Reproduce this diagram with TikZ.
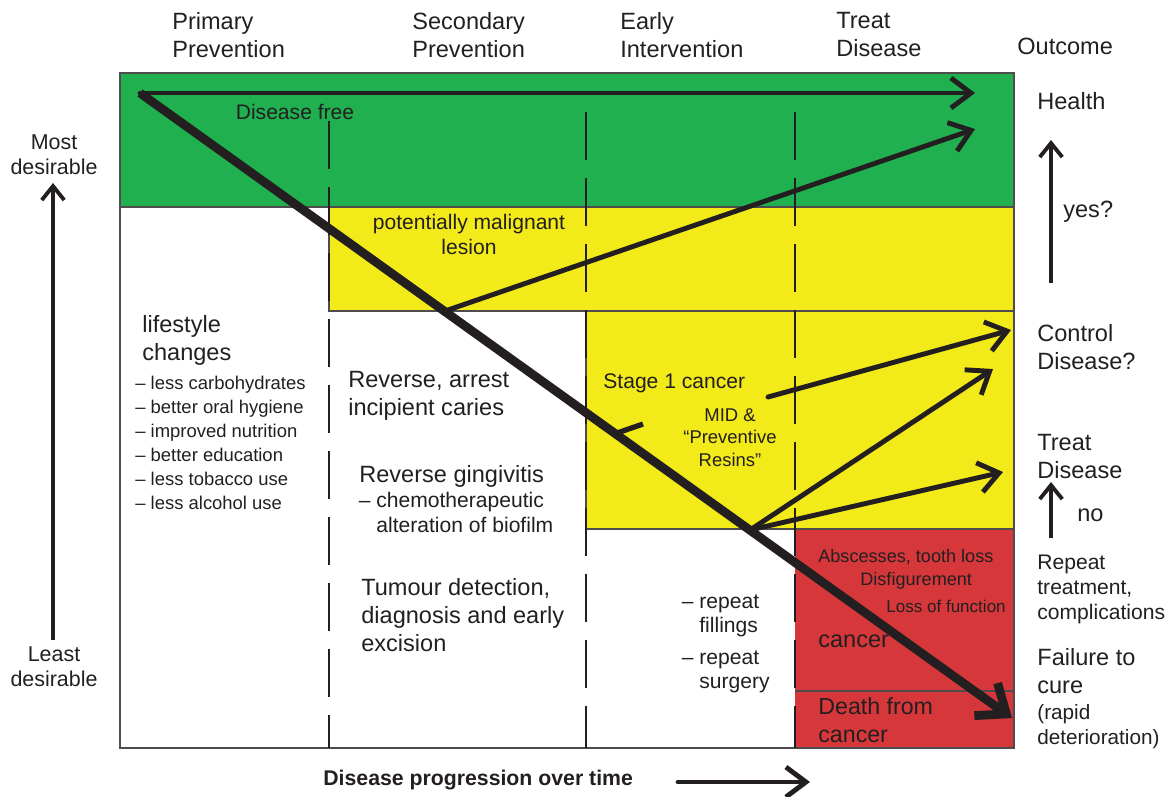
\documentclass[tikz,border=0pt]{standalone}
\usepackage{fontspec}
\setmainfont{Liberation Sans}
\usepackage{tikz}
\usetikzlibrary{arrows.meta,calc,positioning,backgrounds}
\definecolor{ink}{RGB}{35,31,32}
\definecolor{freegreen}{RGB}{33,176,80}
\definecolor{lesionyellow}{RGB}{242,234,25}
\definecolor{cancerred}{RGB}{214,55,58}
\tikzset{
  txt/.style={inner sep=0pt, text=ink, align=left, anchor=north west},
  bigtxt/.style={txt, font=\fontsize{13.4}{15.9}\selectfont},
  midtxt/.style={txt, font=\fontsize{12}{14.2}\selectfont},
  smalltxt/.style={txt, font=\fontsize{10.5}{13.6}\selectfont},
  stageline/.style={draw=ink, line width=1.5pt, dash pattern=on 0.96cm off 0.36cm},
  zone/.style={draw=ink!80, line width=0.8pt},
  flow/.style={draw=ink, line width=2.8pt, line cap=round,
    -{Straight Barb[length=0.4cm,width=0.6cm]}},
  mainflow/.style={draw=ink, line width=5pt, line join=round,
    -{Straight Barb[length=0.5cm,width=0.8cm]}},
  sideflow/.style={draw=ink, line width=2.2pt,
    -{Straight Barb[length=0.28cm,width=0.45cm]}}
}
\begin{document}
\begin{tikzpicture}[x=0.02cm,y=-0.02cm]
\useasboundingbox (0,0) rectangle (1168,796);
\pgfmathsetmacro{\colB}{329}
\pgfmathsetmacro{\colC}{586}
\pgfmathsetmacro{\colD}{795}
\pgfmathsetmacro{\rgt}{1014}

% coloured zones
\fill[freegreen] (120,73) rectangle (\rgt,207);
\fill[lesionyellow] (\colB,207) rectangle (\rgt,311);
\fill[lesionyellow] (\colC,311) rectangle (\rgt,529);
\fill[cancerred] (\colD,529) rectangle (\rgt,748);
\draw[zone] (120,207) -- (\colB,207) -- (\colB,311) -- (\colC,311) -- (\colC,529) -- (\colD,529);
\draw[zone] (\colB,207) -- (\rgt,207);
\draw[zone] (\colB,311) -- (\rgt,311);
\draw[zone] (\colC,529) -- (\rgt,529);
\draw[zone] (\colD,691) -- (\rgt,691);
\draw[zone] (120,73) rectangle (\rgt,748);

% phase borders
\draw[stageline] (\colB,121) -- (\colB,748);
\draw[stageline] (\colC,112) -- (\colC,748);
\draw[stageline] (\colD,112) -- (\colD,748);

% headers
\node[bigtxt] (prim) at (172,12) {Primary\\Prevention};
\node[bigtxt] (sec) at (412,12) {Secondary\\Prevention};
\node[bigtxt] (early) at (620,12) {Early\\Intervention};
\node[bigtxt] (treat) at (836,12) {Treat\\Disease};
\node[bigtxt] (outcome) at (1017,38) {Outcome};

% outcomes
\node[bigtxt] (health) at (1037,92) {Health};
\node[bigtxt] (yes) at (1063,201) {yes?};
\node[bigtxt] (control) at (1037,324) {Control\\Disease?};
\node[bigtxt] (treatdis) at (1037,434) {Treat\\Disease};
\node[bigtxt, anchor=west] (no) at (1077,515) {no};
\node[midtxt] (repeat) at (1037,555) {Repeat\\treatment,\\complications};
\node[bigtxt] (failure) at (1037,648) {Failure to\\cure};
\node[midtxt, font=\fontsize{11.8}{14.2}\selectfont] (rapid) at (1037,704) {(rapid\\deterioration)};

% desirability
\node[txt, align=center, anchor=north, font=\fontsize{12.2}{14.2}\selectfont] (most) at (54,134) {Most\\desirable};
\node[txt, align=center, anchor=north, font=\fontsize{12.2}{14.2}\selectfont] (least) at (54,646) {Least\\desirable};

% zone texts
\node[midtxt, anchor=center] (free) at (295,112) {Disease free};
\node[midtxt, align=center, anchor=north] (lesion) at (469,214) {potentially malignant\\lesion};
\node[midtxt, anchor=west] (stage) at (603,383) {Stage 1 cancer};
\node[smalltxt, align=center, anchor=north, font=\fontsize{10.5}{13}\selectfont] (mid) at (730,408) {MID \&\\“Preventive\\Resins”};
\node[smalltxt, anchor=west, font=\fontsize{10.3}{12}\selectfont] (absc) at (818,557) {Abscesses, tooth loss};
\node[smalltxt, anchor=west, font=\fontsize{10.3}{12}\selectfont] (disf) at (860,581) {Disfigurement};
\node[smalltxt, anchor=west, font=\fontsize{9.7}{12}\selectfont] (loss) at (886,606) {Loss of function};
\node[bigtxt, anchor=west] (cancer) at (818,641) {cancer};
\node[bigtxt, font=\fontsize{13.2}{16.4}\selectfont] (death) at (818,697) {Death from\\cancer};

% column texts
\node[bigtxt] (lifestyle) at (142,315) {lifestyle\\changes};
\node[smalltxt] (habits) at (135,376) {– less carbohydrates\\– better oral hygiene\\– improved nutrition\\– better education\\– less tobacco use\\– less alcohol use};
\node[bigtxt] (caries) at (348,371) {Reverse, arrest\\incipient caries};
\node[bigtxt] (gingi) at (359,465) {Reverse gingivitis};
\node[midtxt] (chemo) at (376,492) {\llap{– }chemotherapeutic\\alteration of biofilm};
\node[bigtxt] (tumour) at (361,578) {Tumour detection,\\diagnosis and early\\excision};
\node[midtxt] (fill) at (699,594) {\llap{– }repeat\\fillings};
\node[midtxt] (surg) at (699,650) {\llap{– }repeat\\surgery};
\node[txt, anchor=west, font=\bfseries\fontsize{12.1}{14}\selectfont] (time) at (323,780) {Disease progression over time};

% pathways
\coordinate (origin) at (140,93);
\coordinate (fail) at (1012,718);
\coordinate (lesionfork) at (445,311);
\coordinate (stagefork) at (750,530);
\draw[flow] (origin) -- (975,93);
\draw[mainflow] (origin) -- (fail);
\draw[flow] (lesionfork) -- (975,129);
\draw[flow] (768,397) -- (1011,330);
\draw[flow] (stagefork) -- (993,369);
\draw[flow] (stagefork) -- (1003,472);
\draw[draw=ink, line width=3pt] (617,433) -- (643,424);

\draw[sideflow] (53,640) -- (53,183);
\draw[sideflow] (1051,283) -- (1051,140);
\draw[sideflow] (1051,538) -- (1051,482);
\draw[flow] (678,782) -- (810,782);
\end{tikzpicture}
\end{document}
